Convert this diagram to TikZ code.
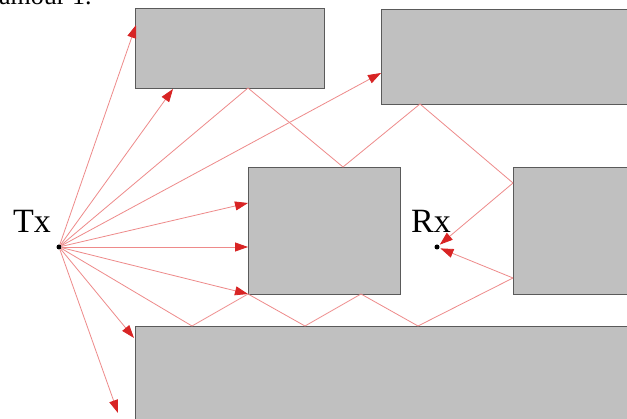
\documentclass[tikz,border=0pt]{standalone}
\usepackage{fontspec}
\setmainfont{Liberation Serif}
\usetikzlibrary{arrows.meta}
\definecolor{wallgray}{HTML}{C0C0C0}
\definecolor{wallline}{HTML}{5A5A5A}
\definecolor{rayred}{HTML}{EE8A8A}
\definecolor{tipred}{HTML}{D82424}
\tikzset{
  wall/.style={draw=wallline, fill=wallgray, line width=0.9pt},
  ray/.style={draw=rayred, line width=0.8pt},
  arr/.style={ray, -{Triangle[length=13pt,width=9pt,color=tipred]}},
  antenna/.style={circle, fill=black, inner sep=0pt, minimum size=5pt},
  lbl/.style={font=\fontsize{34}{36}\selectfont, inner sep=0pt}
}
\begin{document}
\begin{tikzpicture}[x=1pt,y=-1pt]
\useasboundingbox[fill=white] (0,0) rectangle (627,419);
% cut-off caption line at the top
\node[font=\fontsize{26}{28}\selectfont, anchor=base west, inner sep=0pt] (cap) at (-1,5) {amour 1.};
% walls
\draw[wall] (135,8) rectangle (324,88) coordinate (Abr);
\draw[wall] (381,9) rectangle (629,104);
\draw[wall] (248,167) rectangle (400,294);
\draw[wall] (513,167) rectangle (629,294);
\draw[wall] (135,326) rectangle (629,421);
% antennas
\node[antenna] (tx) at (59,247) {};
\node[antenna] (rx) at (437,247) {};
\node[lbl] (txl) at (32,221) {Tx};
\node[lbl] (rxl) at (431,221) {Rx};
% end points of direct rays
\coordinate (e1) at (136,25);
\coordinate (e2) at (173,89);
\coordinate (e4) at (381,73);
\coordinate (e5) at (248,203);
\coordinate (e6) at (248,247);
\coordinate (e7) at (248,294);
\coordinate (e9) at (134,338);
\coordinate (e10) at (118,413);
% reflection points
\coordinate (pA) at (248,88);
\coordinate (pC) at (343,167);
\coordinate (pB) at (420,104);
\coordinate (pD) at (513,183);
\coordinate (q1) at (192,326);
\coordinate (q2) at (305,326);
\coordinate (q3) at (361,294);
\coordinate (q4) at (418,326);
\coordinate (q5) at (513,278);
% direct rays
\foreach \e in {e1,e2,e4,e5,e6,e7,e9,e10} \draw[arr] (tx) -- (\e);
% reflected paths
\draw[ray] (tx) -- (pA) -- (pC) -- (pB) -- (pD);
\draw[arr, shorten >=1pt] (pD) -- (rx);
\draw[ray] (tx) -- (q1) -- (e7) -- (q2) -- (q3) -- (q4) -- (q5);
\draw[arr, shorten >=1pt] (q5) -- (rx);
\end{tikzpicture}
\end{document}
